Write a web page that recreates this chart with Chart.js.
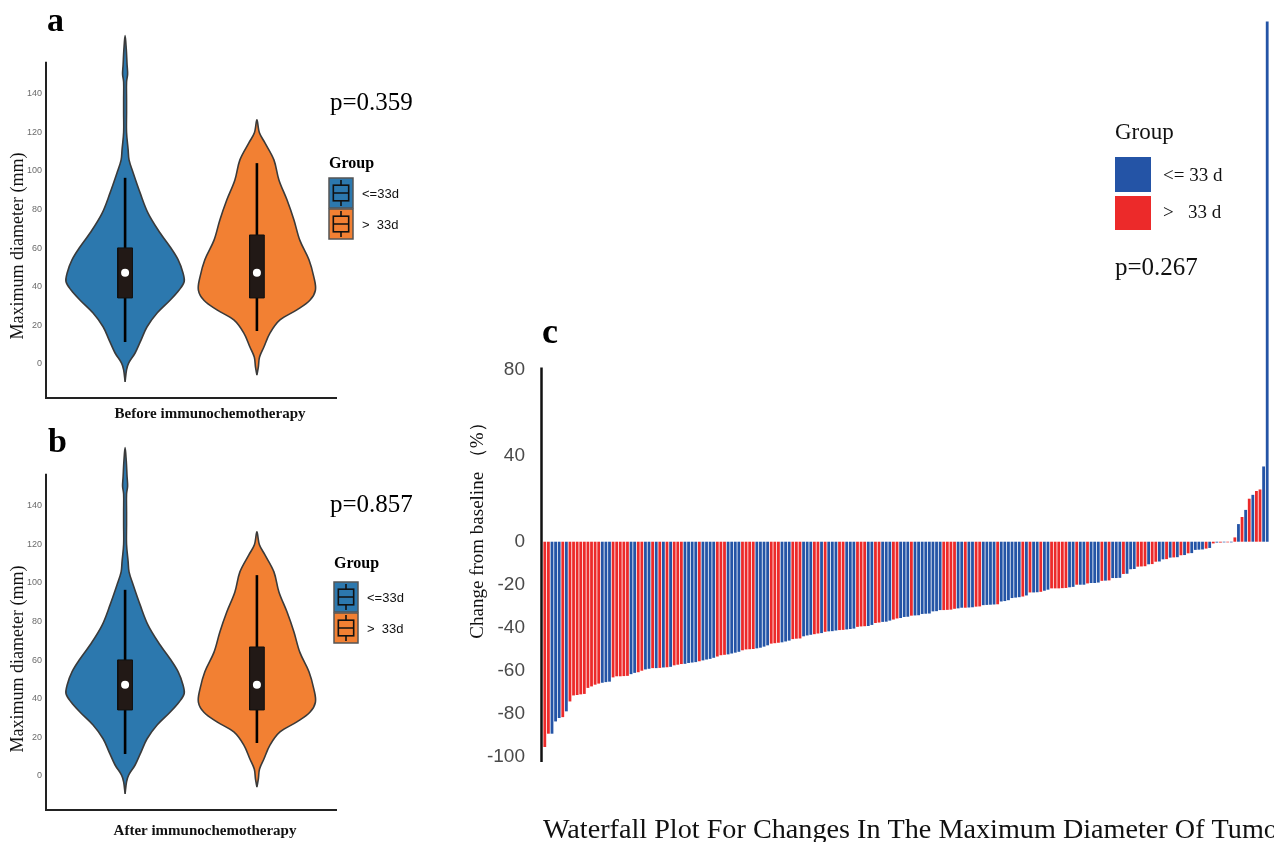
<!DOCTYPE html>
<html>
<head>
<meta charset="utf-8">
<script src="https://cdn.jsdelivr.net/npm/chart.js@4.4.1/dist/chart.umd.min.js"></script>
<style>
  html, body { margin: 0; padding: 0; background: #fff; }
  body { width: 1274px; height: 842px; position: relative; overflow: hidden; }
  canvas { position: absolute; }
</style>
</head>
<body>
<canvas id="violinA" width="430" height="425" style="left:0;top:0"></canvas>
<canvas id="violinB" width="430" height="430" style="left:0;top:412px"></canvas>
<canvas id="waterfall" width="834" height="842" style="left:440px;top:0"></canvas>
<script>
// ---- panels a / b : maximum diameter (mm) ----
let groupNames = ["<=33d", ">  33d"];
let diameterTicks = [0, 20, 40, 60, 80, 100, 120, 140];

// density outline: value (mm) and half width (x units)
let blueDensityY = [-9.3, -3, 0.5, 5.7, 12.4, 19.3, 26.4, 33, 38.3, 42.6, 47, 54, 60.7, 67.8, 78, 88.6, 99, 105.7, 111, 120, 130, 137, 146, 150, 155, 163, 170];
let blueDensityW = [0, .011, .027, .076, .121, .167, .243, .341, .41, .448, .44, .402, .341, .266, .175, .114, .061, .03, .023, .011, .011, .011, .011, .019, .015, .009, 0];
let orangeDensityY = [-5.7, -1.5, 3.6, 8.8, 16, 22.8, 28, 33, 38.3, 45, 54, 64, 74.6, 85, 95.3, 105.7, 114.5, 119.7, 126.4];
let orangeDensityW = [0, .011, .02, .053, .099, .175, .303, .402, .444, .432, .395, .326, .281, .228, .167, .129, .061, .019, 0];

// low whisker, q1, median, q3, high whisker
let blueBox = [11.4, 34.2, 47.2, 60.1, 96.4];
let orangeBox = [17.1, 34.2, 47.2, 66.8, 104];

// ---- panel c : waterfall ----
let wfChange = [
  -95.5, -89.3, -89.3, -83.6, -82, -81.6, -78.9, -74.3, -71.5, -71.3, -71, -70.8, -68, -67.3, -66.5, -66, -65.6, -65.3, -65.1, -63.1,
  -62.6, -62.6, -62.5, -62.4, -61.6, -61, -60.7, -60, -59.4, -59.1, -58.8, -58.8, -58.7, -58.5, -58.4, -58.2, -57.5, -57.2, -56.9,
  -56.8, -56.4, -56.2, -56, -55.6, -55.2, -54.8, -54.5, -54, -53.4, -52.8, -52.6, -52.4, -52, -51.6, -51.2, -50.5, -50.1, -50, -49.9,
  -49.6, -49.3, -48.8, -48.2, -47.4, -47.2, -47, -46.8, -46.4, -46, -45.3, -45.1, -45, -44, -43.6, -43.3, -43,
  -42.7, -42.5, -41.9, -41.7, -41.6, -41.3, -41.1, -41, -40.8, -40.6, -40.4, -39.6, -39.4, -39.3, -39.2, -38.7, -37.8, -37.6, -37.3,
  -37.2, -36.7, -36.2, -35.7, -35.5, -35, -34.9, -34.4, -34.3, -34.2, -33.6, -33.5, -33.4, -32.4, -32.3, -31.8, -31.8, -31.7, -31.6,
  -31.2, -31, -30.7, -30.7, -30.6, -30.5, -30.2, -30.1, -29.5, -29.4, -29.3, -29.2, -29.1, -27.8, -27.6, -27.2,
  -26.2, -26, -25.8, -25.5, -25, -23.6, -23.6, -23.5, -23.3, -22.8, -22.3, -21.7, -21.7, -21.7, -21.6, -21.5, -21.2, -21, -20, -20,
  -20, -19.4, -19.2, -19.2, -19, -18.2, -18.1, -18, -16.9, -16.9, -16.8, -15, -14.9, -12.8, -12.7, -11.6, -11.5, -11.4, -10.5, -10.4,
  -9.3, -9.2, -8.2, -8.1, -7.4, -7.3, -7.2, -6.3, -6.2, -5.4, -5.3, -3.8, -3.7, -3.6, -3.2, -2.9, -0.8, -0.4, -0.4, -0.3,
  -0.3, -0.3, 2, 8.2, 11.5, 14.8, 20, 21.8, 23.6, 24.3, 35, 242
];
// B = "<= 33 d", R = "> 33 d"
let wfGroup = (
  "RRBBBRBRRRRRRRRRBBBRRRRRBBRRBBRBRBRBRRR" +
  "BBBBRBBBBRRRBBBBRRRRBBBBRRRBBBRRRBBBR" +
  "RBRBBBRRBBBRRRBBRRBBBRRBBBRBBBBBBBBRRR" +
  "RBBRBBRRBBBBRBBB" +
  "BBBRBRBBRBBRRRRRBBRBBRBBBRBRBBBRBBBRRRBRRBBRBRBRBRBBBBRBRBRBRBRBRBRBRRBB"
).split("");
let wfTicks = [-100, -80, -60, -40, -20, 0, 40, 80];
let wfLegend = ["<= 33 d", ">   33 d"];

const BLUE = "#2c78ae", ORANGE = "#f28033";
const WF_BLUE = "#2454a6", WF_RED = "#ec2a2a";
const SERIF = "'Liberation Serif', 'Times New Roman', serif";
const SANS = "'Liberation Sans', Arial, sans-serif";

function txt(ctx, s, x, y, font, color, align, base, rot) {
  ctx.save();
  ctx.font = font;
  ctx.fillStyle = color || "#000";
  ctx.textAlign = align || "left";
  ctx.textBaseline = base || "alphabetic";
  ctx.translate(x, y);
  if (rot) ctx.rotate(rot);
  ctx.fillText(s, 0, 0);
  ctx.restore();
}

function violinPoints(cx, ys, ws) {
  let right = ys.map((y, i) => ({ x: cx + ws[i], y: y }));
  let left = ys.map((y, i) => ({ x: cx - ws[i], y: y })).reverse();
  return right.concat(left.slice(1));
}

function boxPoints(cx, s, hw) {
  return [
    { x: cx - hw, y: s[1] }, { x: cx + hw, y: s[1] },
    { x: cx + hw, y: s[3] }, { x: cx - hw, y: s[3] }, { x: cx - hw, y: s[1] }
  ];
}

function violinKey(ctx, x, y, w, h, color) {
  ctx.save();
  ctx.fillStyle = color;
  ctx.fillRect(x, y, w, h);
  ctx.strokeStyle = "#555";
  ctx.lineWidth = 1.5;
  ctx.strokeRect(x, y, w, h);
  ctx.strokeStyle = "#111";
  ctx.lineWidth = 1.6;
  let bx = x + w * 0.18, bw = w * 0.64, by = y + h * 0.24, bh = h * 0.52;
  ctx.strokeRect(bx, by, bw, bh);
  ctx.beginPath();
  ctx.moveTo(bx, y + h / 2); ctx.lineTo(bx + bw, y + h / 2);
  ctx.moveTo(x + w / 2, y + 2); ctx.lineTo(x + w / 2, by);
  ctx.moveTo(x + w / 2, by + bh); ctx.lineTo(x + w / 2, y + h - 2);
  ctx.stroke();
  ctx.restore();
}

function makeViolin(id, t) {
  let boxes = [[1, blueBox], [2, orangeBox]];
  let datasets = [
    { data: violinPoints(1, blueDensityY, blueDensityW), backgroundColor: BLUE, order: 3 },
    { data: violinPoints(2, orangeDensityY, orangeDensityW), backgroundColor: ORANGE, order: 3 }
  ].map(d => Object.assign(d, { showLine: true, fill: "shape", borderColor: "#3a3a3a", borderWidth: 1.6, pointRadius: 0, tension: 0.35 }));

  boxes.forEach(([cx, s]) => {
    datasets.push({ data: [{ x: cx, y: s[0] }, { x: cx, y: s[4] }], showLine: true, borderColor: "#000", borderWidth: 2.6, pointRadius: 0, order: 2 });
    datasets.push({ data: boxPoints(cx, s, 0.056), showLine: true, fill: "shape", backgroundColor: "#221916", borderColor: "#111", borderWidth: 1, pointRadius: 0, order: 1 });
    datasets.push({ data: [{ x: cx, y: s[2] }], showLine: false, pointRadius: 4, pointBackgroundColor: "#fff", pointBorderWidth: 0, order: 0 });
  });

  let decor = {
    id: "decor",
    afterDraw(chart) {
      let ctx = chart.ctx, a = chart.chartArea, ys = chart.scales.y;
      ctx.save();
      ctx.strokeStyle = "#222";
      ctx.lineWidth = 2;
      ctx.beginPath();
      ctx.moveTo(a.left, ys.getPixelForValue(156.5));
      ctx.lineTo(a.left, a.bottom + 1);
      ctx.stroke();
      ctx.restore();

      txt(ctx, t.letter, t.lx, t.ly, "bold 34px " + SERIF);
      txt(ctx, t.p, 330, t.py, "25px " + SERIF);
      txt(ctx, "Group", t.gx, t.gy, "bold 16px " + SERIF);
      violinKey(ctx, t.gx, t.ky[0], 24, 30, BLUE);
      violinKey(ctx, t.gx, t.ky[1], 24, 30, ORANGE);
      txt(ctx, groupNames[0], t.gx + 33, t.ky[0] + 16, "13px " + SANS, "#111", "left", "middle");
      txt(ctx, groupNames[1], t.gx + 33, t.ky[1] + 16, "13px " + SANS, "#111", "left", "middle");
      txt(ctx, "Maximum diameter (mm)", 18, t.yty, "18px " + SERIF, "#111", "center", "middle", -Math.PI / 2);
      txt(ctx, t.xtitle, t.xtx, t.xty, "bold 15px " + SERIF, "#111", "center", "middle");
    }
  };

  let h = document.getElementById(id).height;
  return new Chart(document.getElementById(id), {
    type: "scatter",
    data: { datasets: datasets },
    options: {
      responsive: false,
      animation: false,
      devicePixelRatio: 1,
      layout: { padding: { top: 26, right: 94, bottom: h - 398, left: 0 } },
      plugins: { legend: { display: false }, tooltip: { enabled: false } },
      scales: {
        x: {
          type: "linear", min: 0.4, max: 2.6,
          grid: { display: false, drawTicks: false },
          ticks: { display: false },
          border: { display: true, color: "#222", width: 2 },
          afterFit: s => { s.height = 0; }
        },
        y: {
          type: "linear", min: -17.6, max: 175,
          grid: { display: false, drawTicks: false },
          border: { display: false },
          afterBuildTicks: s => { s.ticks = diameterTicks.map(v => ({ value: v })); },
          afterFit: s => { s.width = 46; },
          ticks: { padding: 4, color: "#6b6b6b", font: { family: SANS, size: 9 } }
        }
      }
    },
    plugins: [decor]
  });
}

makeViolin("violinA", {
  letter: "a", lx: 47, ly: 31, p: "p=0.359", py: 110,
  gx: 329, gy: 168, ky: [178, 209], yty: 246,
  xtitle: "Before immunochemotherapy", xtx: 210, xty: 414
});
makeViolin("violinB", {
  letter: "b", lx: 48, ly: 40, p: "p=0.857", py: 100,
  gx: 334, gy: 156, ky: [170, 201], yty: 247,
  xtitle: "After immunochemotherapy", xtx: 205, xty: 419
});

// ---- waterfall ----
let wfDecor = {
  id: "wfDecor",
  afterDraw(chart) {
    let ctx = chart.ctx, a = chart.chartArea, ys = chart.scales.y;
    ctx.save();
    ctx.strokeStyle = "#111";
    ctx.lineWidth = 2.5;
    ctx.beginPath();
    ctx.moveTo(a.left - 1.5, ys.getPixelForValue(81));
    ctx.lineTo(a.left - 1.5, a.bottom + 1);
    ctx.stroke();
    ctx.restore();

    txt(ctx, "c", 102, 343, "bold 36px " + SERIF);
    txt(ctx, "Change from baseline （%）", 38, 526, "19px " + SERIF, "#111", "center", "middle", -Math.PI / 2);
    txt(ctx, "Waterfall Plot For Changes In The Maximum Diameter Of Tumor", 103, 838, "28.2px " + SERIF, "#111");

    txt(ctx, "Group", 675, 139, "23px " + SERIF, "#111");
    ctx.fillStyle = WF_BLUE;
    ctx.fillRect(675, 157, 36, 35);
    ctx.fillStyle = WF_RED;
    ctx.fillRect(675, 196, 36, 34);
    txt(ctx, wfLegend[0], 723, 176, "19px " + SERIF, "#111", "left", "middle");
    txt(ctx, wfLegend[1], 723, 213, "19px " + SERIF, "#111", "left", "middle");
    txt(ctx, "p=0.267", 675, 275, "25px " + SERIF, "#111");
  }
};

new Chart(document.getElementById("waterfall"), {
  type: "bar",
  data: {
    labels: wfChange.map((v, i) => i + 1),
    datasets: [{
      data: wfChange,
      backgroundColor: wfGroup.map(g => g === "B" ? WF_BLUE : WF_RED),
      barPercentage: 0.78,
      categoryPercentage: 1
    }]
  },
  options: {
    responsive: false,
    animation: false,
    devicePixelRatio: 1,
    layout: { padding: { top: 15, right: 5, bottom: 81, left: 0 } },
    plugins: { legend: { display: false }, tooltip: { enabled: false } },
    scales: {
      x: { display: false },
      y: {
        min: -102, max: 245,
        grid: { display: false, drawTicks: false },
        border: { display: false },
        afterBuildTicks: s => { s.ticks = wfTicks.map(v => ({ value: v })); },
        afterFit: s => { s.width = 103; s.paddingTop = 0; s.paddingBottom = 0; },
        ticks: { padding: 18, color: "#4a4a4a", font: { family: SANS, size: 19 } }
      }
    }
  },
  plugins: [wfDecor]
});
</script>
</body>
</html>
